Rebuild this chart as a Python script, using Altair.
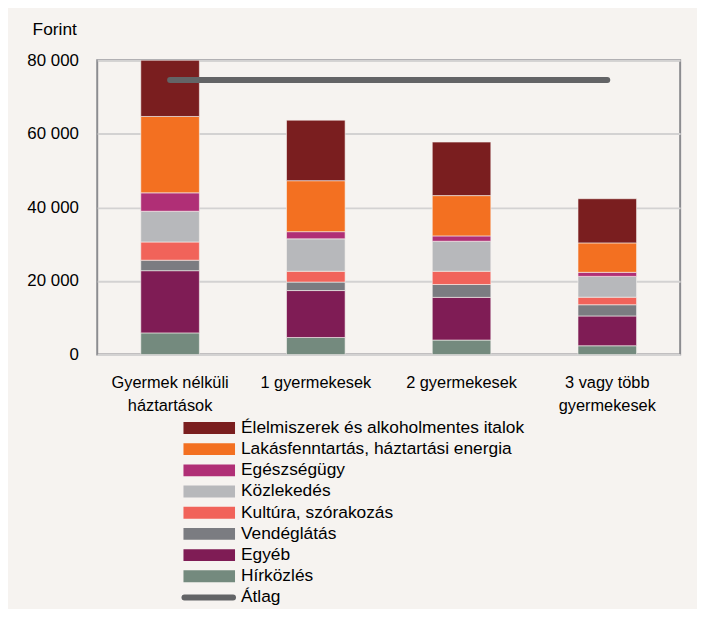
import altair as alt
import pandas as pd

FONT = "Liberation Sans"
BG = "#f6f3f0"

categories = ["Gyermek nélküli háztartások", "1 gyermekesek", "2 gyermekesek", "3 vagy több gyermekesek"]
label_lines = {
    "Gyermek nélküli háztartások": ["Gyermek nélküli", "háztartások"],
    "3 vagy több gyermekesek": ["3 vagy több", "gyermekesek"],
}

# stacking order: bottom -> top
series_names = [
    "Hírközlés",
    "Egyéb",
    "Vendéglátás",
    "Kultúra, szórakozás",
    "Közlekedés",
    "Egészségügy",
    "Lakásfenntartás, háztartási energia",
    "Élelmiszerek és alkoholmentes italok",
]
hirkozles = [5900, 4650, 3950, 2400]
egyeb = [16900, 12750, 11600, 8100]
vendeglatas = [2850, 2300, 3500, 3050]
kultura = [4950, 2950, 3600, 2050]
kozlekedes = [8350, 8800, 8150, 5650]
egeszsegugy = [5000, 1950, 1450, 1100]
lakas = [20750, 13850, 10950, 8000]
elelmiszer = [15300, 16450, 14550, 12000]
series_values = [hirkozles, egyeb, vendeglatas, kultura, kozlekedes, egeszsegugy, lakas, elelmiszer]
series_colors = ["#748a7e", "#7f1c55", "#7b7c81", "#f1635a", "#b7b8bb", "#b02f76", "#f37021", "#7a1e1f"]

avg_name = "Átlag"
avg_value = 74600
avg_color = "#636466"

y_ticks = [0, 20000, 40000, 60000, 80000]

rows = []
for si, (name, vals) in enumerate(zip(series_names, series_values)):
    for cat, v in zip(categories, vals):
        rows.append({"cat": cat, "series": name, "value": v, "order": si})
df = pd.DataFrame(rows)

avg_df = pd.DataFrame({"cat": [categories[0], categories[-1]], "value": [avg_value, avg_value]})

label_expr = " : ".join(
    [f"datum.label == '{k}' ? {v!r}" for k, v in label_lines.items()]
) + " : datum.label"

x_enc = alt.X(
    "cat:N",
    sort=categories,
    scale=alt.Scale(paddingInner=0.598, paddingOuter=0.299),
    axis=alt.Axis(
        title=None, ticks=False, domain=False, labelAngle=0, labelFontSize=16.5,
        labelColor="#000000", labelPadding=20, labelLineHeight=23, labelExpr=label_expr,
        labelFont=FONT,
    ),
)
y_axis = alt.Axis(
    values=y_ticks,
    labelExpr="replace(format(datum.value, ','), ',', ' ')",
    ticks=False, domain=False, grid=True, gridColor="#d3d2d2", gridWidth=2,
    labelPadding=19, labelFontSize=17, labelColor="#000000", labelFont=FONT,
    title="Forint", titleAngle=0, titleAlign="right", titleBaseline="middle",
    titleX=-21, titleY=-31, titleFontWeight="normal", titleFontSize=17.5,
    titleColor="#000000", titleFont=FONT,
)

bars = alt.Chart(df).mark_bar(stroke=BG, strokeWidth=0.6, clip=True).encode(
    x=x_enc,
    y=alt.Y("value:Q", stack="zero", scale=alt.Scale(domain=[0, 80000], nice=False), axis=y_axis),
    color=alt.Color("series:N", scale=alt.Scale(domain=series_names, range=series_colors), legend=None),
    order=alt.Order("order:Q"),
)

avg_line = alt.Chart(avg_df).mark_line(color=avg_color, strokeWidth=6, strokeCap="round").encode(
    x=alt.X("cat:N", sort=categories),
    y=alt.Y("value:Q"),
)

plot = alt.layer(bars, avg_line)

# manual legend below the plot (own point scale, placed under the x labels)
legend_items = list(reversed(series_names)) + [avg_name]
legend_colors = list(reversed(series_colors)) + [avg_color]
leg_df = pd.DataFrame({"item": legend_items, "is_avg": [i == avg_name for i in legend_items]})
leg_y = alt.Y("item:N", sort=legend_items,
              scale=alt.Scale(type="point", domain=legend_items, range=[371, 542], padding=0),
              axis=None)
leg_color = alt.Color("item:N", scale=alt.Scale(domain=legend_items, range=legend_colors), legend=None)

sym_rect = alt.Chart(leg_df).transform_filter("!datum.is_avg").mark_rule(strokeWidth=12, strokeCap="butt").encode(
    x=alt.value(87), x2=alt.value(139), y=leg_y, color=leg_color,
)
sym_line = alt.Chart(leg_df).transform_filter("datum.is_avg").mark_rule(strokeWidth=6, strokeCap="round").encode(
    x=alt.value(88), x2=alt.value(137), y=leg_y, color=leg_color,
)
sym_text = alt.Chart(leg_df).mark_text(align="left", baseline="middle", fontSize=17.5, font=FONT, color="#000000").encode(
    x=alt.value(145), y=leg_y, text="item:N",
)
legend = alt.layer(sym_rect, sym_line, sym_text)

chart = alt.layer(plot, legend).resolve_scale(y="independent", color="independent").properties(
    width=588, height=297,
    view=alt.ViewBackground(stroke="#8c8c90", strokeWidth=2, fill=BG),
    padding={"left": 19, "top": 10, "right": 17, "bottom": 0},
    background=BG,
).configure(font=FONT)

chart.save("out.html", embed_options={"renderer": "svg", "actions": False})
